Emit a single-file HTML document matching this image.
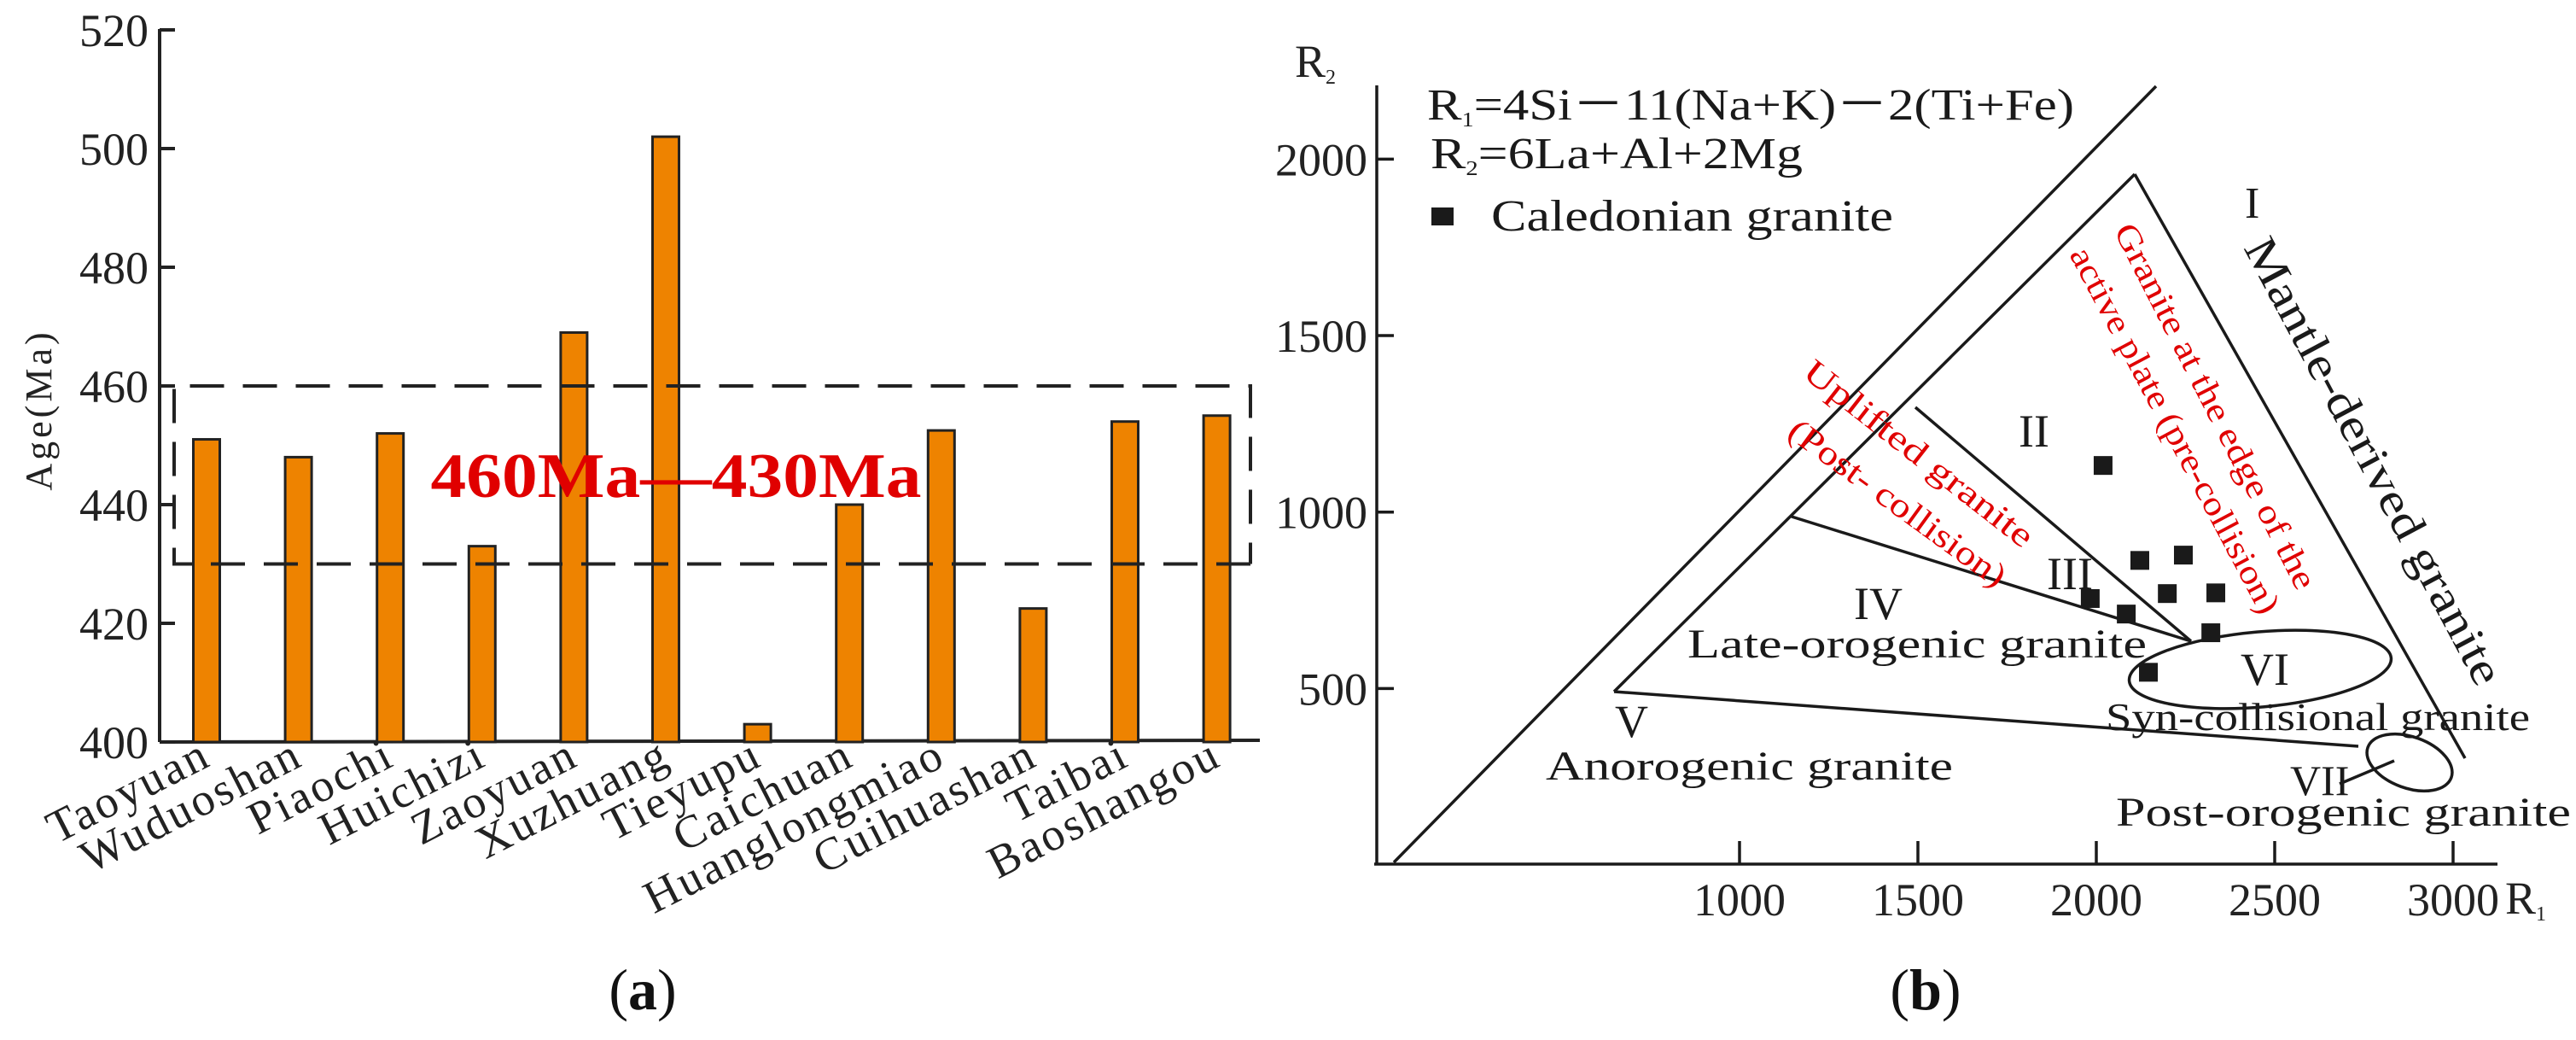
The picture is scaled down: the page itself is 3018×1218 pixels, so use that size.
<!DOCTYPE html>
<html><head><meta charset="utf-8"><style>
html,body{margin:0;padding:0;background:#fff;}
svg{display:block;font-family:"Liberation Serif",serif;}
</style></head><body>
<svg id="fig" width="3018" height="1218" viewBox="0 0 3018 1218" xmlns="http://www.w3.org/2000/svg">
<rect width="3018" height="1218" fill="#fff"/>
<g id="chartA"></g>
<g id="chartB"></g>
</svg>
<script>
// ---------- Chart (a) data ----------
const siteNames = ["Taoyuan","Wuduoshan","Piaochi","Huichizi","Zaoyuan","Xuzhuang","Tieyupu","Caichuan","Huanglongmiao","Cuihuashan","Taibai","Baoshangou"];
const ageValues = [451,448,452,433,469,502,403,440,452.5,422.5,454,455];
const ageTicks = [400,420,440,460,480,500,520];
const rangeBox = [430,460];

// ---------- Chart (b) data ----------
const r1Values = [2019,2122,2244,1983,2084,2199,2335,2321,2146];
const r2Values = [1132,863,878,755,711,769,771,658,546];
const r1Ticks = [1000,1500,2000,2500,3000];
const r2Ticks = [500,1000,1500,2000];

const NS = "http://www.w3.org/2000/svg";
function mk(parent, tag, attrs, text){
  const e = document.createElementNS(NS, tag);
  for (const k in attrs) e.setAttribute(k, attrs[k]);
  if (text !== undefined) e.textContent = text;
  parent.appendChild(e);
  return e;
}

// ===== Chart A =====
const A = document.getElementById('chartA');
const ay = v => 869 - (v - 400) * 139 / 20;
const ax = i => 242 + i * 107.6;
let e = mk(A,'line',{x1:187,y1:34,x2:187,y2:ay(400),stroke:'#222','stroke-width':4});


e = mk(A,'line',{x1:187,y1:ay(400),x2:1476,y2:ay(400)-2,stroke:'#222','stroke-width':4});


ageTicks.forEach(t=>{
  const y = ay(t);
  const l = mk(A,'line',{x1:187,y1:y,x2:205,y2:y,stroke:'#222','stroke-width':4});
  
  
  const tx = mk(A,'text',{x:174,y:y+19,'text-anchor':'end','font-size':54,fill:'#222'},String(t));
  
  
});
e = mk(A,'text',{x:0,y:0,transform:'translate(60,480) rotate(-90)','text-anchor':'middle','font-size':44,'letter-spacing':4,fill:'#222'},'Age(Ma)');


ageValues.forEach((v,i)=>{
  const x = ax(i), y = ay(v);
  const r = mk(A,'rect',{x:x-15.5,y:y,width:31,height:ay(400)-y,fill:'#ee8300',stroke:'#222','stroke-width':3});
  
  
  const t = mk(A,'text',{x:0,y:0,transform:`translate(${x+8},${ay(400)+26}) rotate(-27)`,'text-anchor':'end','font-size':54,'letter-spacing':3,fill:'#222'},siteNames[i]);
  
  
});
const bt = ay(rangeBox[1]), bb = ay(rangeBox[0]);
e = mk(A,'path',{d:`M1465,${bb} L204,${bb} L204,${bt} L1465,${bt} L1465,${bb}`,fill:'none',stroke:'#222','stroke-width':4,'stroke-dasharray':'40,22'});


e = mk(A,'text',{x:792,y:582,'text-anchor':'middle','font-size':74,'font-weight':'bold',fill:'#e00000',textLength:575,lengthAdjust:'spacingAndGlyphs'},'460Ma—430Ma');


e = mk(A,'text',{x:753,y:1182,'text-anchor':'middle','font-size':68,fill:'#111'},'');


mk(e,'tspan',{},'(');
mk(e,'tspan',{'font-weight':'bold'},'a');
mk(e,'tspan',{},')');

// ===== Chart B =====
const B = document.getElementById('chartB');
const bx = v => 1620 + v * 0.418;
const by = v => 1013 - v * 0.4133;
function ln(x1,y1,x2,y2,name){
  const l = mk(B,'line',{x1,y1,x2,y2,stroke:'#1a1a1a','stroke-width':3.5});
  
  
}
ln(1613,100,1613,1012,'y-axis-line');
ln(1610,1012,2926,1012,'x-axis-line');
r2Ticks.forEach(t=>{
  const y = by(t);
  ln(1613,y,1633,y,'y-tick');
  const tx = mk(B,'text',{x:1602,y:y+19,'text-anchor':'end','font-size':54,fill:'#222'},String(t));
  
  
});
r1Ticks.forEach(t=>{
  const x = bx(t);
  ln(x,985,x,1012,'x-tick');
  const tx = mk(B,'text',{x:x,y:1072,'text-anchor':'middle','font-size':54,fill:'#222'},String(t));
  
  
});
e = mk(B,'text',{x:2935,y:1070,'font-size':54,fill:'#222'},'R');


mk(e,'tspan',{'font-size':24,dy:8},'1');
e = mk(B,'text',{x:1517,y:90,'font-size':54,fill:'#222'},'R');


mk(e,'tspan',{'font-size':24,dy:8},'2');

ln(1633,1010,2526,101,'outer-boundary');
ln(1891,810,2501,204,'inner-left-boundary');
ln(2501,204,2888,888,'inner-right-boundary');
ln(2099,605,2567,751,'boundary-iv-iii');
ln(2244,477,2567,751,'boundary-iii-ii');
ln(1891,810,2763,874,'boundary-v');
ln(2741,918,2805,891,'vii-pointer');
e = mk(B,'ellipse',{cx:2648,cy:784,rx:154,ry:44,transform:'rotate(-5 2648 784)',fill:'none',stroke:'#1a1a1a','stroke-width':3.5});


e = mk(B,'ellipse',{cx:2823,cy:893,rx:52,ry:30,transform:'rotate(20 2823 893)',fill:'none',stroke:'#1a1a1a','stroke-width':3.5});



r1Values.forEach((v,i)=>{
  const p = mk(B,'rect',{x:bx(v)-11,y:by(r2Values[i])-11,width:22,height:22,fill:'#1a1a1a'});
  
  
});

function tx(x,y,s,str,name,extra){
  const a = Object.assign({x,y,'font-size':s,fill:'#1a1a1a'},extra||{});
  const t = mk(B,'text',a,str);
  
  
  return t;
}
let t = tx(1672,140,52,'R','formula-r1',{textLength:758,lengthAdjust:'spacingAndGlyphs'});
mk(t,'tspan',{'font-size':24,dy:8},'1');
mk(t,'tspan',{dy:-8},'=4Si－11(Na+K)－2(Ti+Fe)');
t = tx(1676,197,52,'R','formula-r2',{textLength:436,lengthAdjust:'spacingAndGlyphs'});
mk(t,'tspan',{'font-size':24,dy:8},'2');
mk(t,'tspan',{dy:-8},'=6La+Al+2Mg');
e = mk(B,'rect',{x:1677,y:243,width:26,height:21,fill:'#1a1a1a'});


tx(1747,270,52,'Caledonian granite','legend-label',{textLength:471,lengthAdjust:'spacingAndGlyphs'});

tx(2630,255,52,'I','field-i-label');
tx(0,0,54,'Mantle-derived granite','mantle-derived-label',{transform:'translate(2628,290) rotate(62)',textLength:585,lengthAdjust:'spacingAndGlyphs'});
tx(0,0,40,'Granite at the edge of the','active-plate-label-1',{transform:'translate(2476,270) rotate(63)',fill:'#e00000',textLength:475,lengthAdjust:'spacingAndGlyphs'});
tx(0,0,40,'active plate (pre-collision)','active-plate-label-2',{transform:'translate(2424,298) rotate(62)',fill:'#e00000',textLength:480,lengthAdjust:'spacingAndGlyphs'});
tx(0,0,40,'Uplifted  granite','uplifted-label-1',{transform:'translate(2110,440) rotate(38)',fill:'#e00000',textLength:330,lengthAdjust:'spacingAndGlyphs'});
tx(0,0,40,'(Post- collision)','uplifted-label-2',{transform:'translate(2092,510) rotate(36)',fill:'#e00000',textLength:305,lengthAdjust:'spacingAndGlyphs'});
tx(2365,523,54,'II','field-ii-label');
tx(2398,690,54,'III','field-iii-label');
tx(2172,725,54,'IV','field-iv-label');
tx(1977,770,48,'Late-orogenic granite','late-orogenic-label',{textLength:538,lengthAdjust:'spacingAndGlyphs'});
tx(2625,802,54,'VI','field-vi-label');
tx(2467,855,46,'Syn-collisional granite','syn-collisional-label',{textLength:497,lengthAdjust:'spacingAndGlyphs'});
tx(1892,863,54,'V','field-v-label');
tx(1811,913,48,'Anorogenic granite','anorogenic-label',{textLength:477,lengthAdjust:'spacingAndGlyphs'});
tx(2683,931,50,'VII','field-vii-label');
tx(2479,967,48,'Post-orogenic granite','post-orogenic-label',{textLength:533,lengthAdjust:'spacingAndGlyphs'});
t = tx(2256,1182,68,'','panel-b-label',{'text-anchor':'middle',fill:'#111'});
mk(t,'tspan',{},'(');
mk(t,'tspan',{'font-weight':'bold'},'b');
mk(t,'tspan',{},')');
</script>
</body></html>
